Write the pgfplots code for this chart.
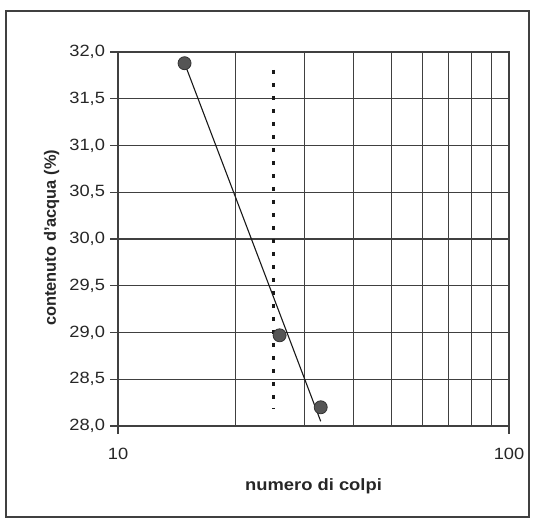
\documentclass[border=0pt]{standalone}
\usepackage{pgfplots}
\pgfplotsset{compat=1.18}
\usepackage{fontspec}
\setmainfont{Liberation Sans}
\definecolor{gridc}{HTML}{404040}
\definecolor{markc}{HTML}{555555}
\begin{document}
\begin{tikzpicture}[x=1pt,y=1pt]
\path (0,0) rectangle (536,526);
\draw[line width=1.3pt, color=gridc] (6,9) rectangle (529,515);
\begin{axis}[
  at={(118pt,100pt)}, anchor=south west,
  scale only axis, width=391pt, height=374pt,
  xmode=log, xmin=10, xmax=100, ymin=28, ymax=32,
  xtick={10,100}, xticklabels={10,100},
  minor xtick={20,30,40,50,60,70,80,90},
  ytick={28,28.5,29,29.5,30,30.5,31,31.5,32},
  yticklabels={{28,0},{28,5},{29,0},{29,5},{30,0},{30,5},{31,0},{31,5},{32,0}},
  xmajorgrids, xminorgrids, ymajorgrids,
  grid style={color=gridc, line width=1.1pt},
  minor grid style={color=gridc, line width=1.1pt},
  axis line style={color=gridc, line width=1.1pt},
  tick style={color=gridc, line width=1.1pt},
  tick align=outside, major tick length=8pt, minor tick length=0pt,
  xtick pos=bottom, ytick pos=left,
  ticklabel style={font=\fontsize{16.3}{19}\selectfont, color=black!85, xscale=1.12},
  xticklabel style={yshift=-11pt},
  yticklabel style={xshift=-1pt},
  xlabel={numero di colpi}, ylabel={contenuto d'acqua (\%)},
  label style={font=\bfseries\fontsize{16.4}{19}\selectfont, color=black!85},
  xlabel style={at={(axis description cs:0.5,-0.16)}, anchor=center, xscale=1.12},
  ylabel style={at={(axis description cs:-0.17,0.503)}, anchor=center, rotate=0},
  clip=false,
]
\addplot[color=black!90, line width=2.4pt, dash pattern=on 4pt off 9pt, forget plot] coordinates {(25,31.81) (25,28.19)};
\addplot[color=black!90, line width=1.1pt, forget plot] coordinates {(14.8,31.88) (33.0,28.05)};
\addplot[only marks, mark=*, mark size=6.5pt, mark options={fill=markc, draw=black!80, line width=0.8pt}] coordinates {(14.8,31.88) (25.9,28.97) (33.0,28.2)};
\end{axis}
\end{tikzpicture}
\end{document}
